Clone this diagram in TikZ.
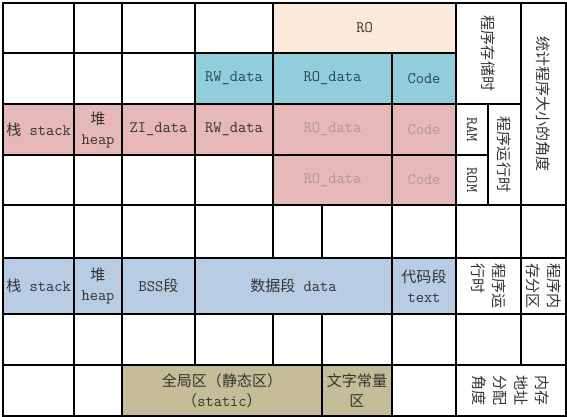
\documentclass[tikz,border=0pt]{standalone}
\usepackage{fontspec}
\newfontfamily\cjk[Scale=0.94]{Noto Sans CJK SC}
\definecolor{peach}{HTML}{FDE9D9}
\definecolor{cblue}{HTML}{92CDDC}
\definecolor{cpink}{HTML}{E6B8B7}
\definecolor{lblue}{HTML}{B8CCE4}
\definecolor{khaki}{HTML}{C4BD97}
\definecolor{txt}{HTML}{333333}
\definecolor{teal}{HTML}{264650}
\definecolor{faded}{RGB}{176,152,154}
\tikzset{
  cell/.style={draw=black, line width=1.1pt, inner sep=0pt, outer sep=0pt,
    font=\fontsize{16}{20}\selectfont\ttfamily, text=txt, align=center},
  thickbox/.style={draw=black, line width=2.6pt},
  vtext/.style={rotate=-90, inner sep=0pt, font=\fontsize{16}{21}\selectfont\cjk, text=txt, align=left},
  vlatin/.style={rotate=-90, inner sep=0pt, font=\fontsize{16}{20}\selectfont\ttfamily, text=txt},
}
\newcommand\mkcell[7]{%
  \pgfmathsetmacro\mkw{#4-#2}\pgfmathsetmacro\mkh{#5-#3}%
  \node[cell,minimum width=\mkw pt,minimum height=\mkh pt,#6] (#1) at ({(#2+#4)/2},{(#3+#5)/2}) {#7};}
\begin{document}
\begin{tikzpicture}[x=1pt,y=-1pt]
\useasboundingbox[fill=white] (0,0) rectangle (567,417);
% row 1
\mkcell{a1}{3}{3}{74}{53}{}{}
\mkcell{a2}{74}{3}{122}{53}{}{}
\mkcell{a3}{122}{3}{195}{53}{}{}
\mkcell{a4}{195}{3}{273}{53}{}{}
\mkcell{RO}{273}{3}{456}{53}{fill=peach}{RO}
\mkcell{store}{456}{3}{521}{104}{}{}
\mkcell{stat}{521}{3}{566}{205}{}{}
% row 2
\mkcell{b1}{3}{53}{74}{104}{}{}
\mkcell{b2}{74}{53}{122}{104}{}{}
\mkcell{b3}{122}{53}{195}{104}{}{}
\mkcell{rw1}{195}{53}{273}{104}{fill=cblue,text=teal}{RW\_data}
\mkcell{ro1}{273}{53}{392}{104}{fill=cblue,text=teal}{RO\_data}
\mkcell{code1}{392}{53}{456}{104}{fill=cblue,text=teal}{Code}
% row 3
\mkcell{stack1}{3}{104}{74}{155}{fill=cpink}{{\cjk 栈} stack}
\mkcell{heap1}{74}{104}{122}{155}{fill=cpink}{{\cjk 堆}\\heap}
\mkcell{zi}{122}{104}{195}{155}{fill=cpink}{ZI\_data}
\mkcell{rw2}{195}{104}{273}{155}{fill=cpink}{RW\_data}
\mkcell{ro2}{273}{104}{392}{155}{fill=cpink,text=faded}{RO\_data}
\mkcell{code2}{392}{104}{456}{155}{fill=cpink,text=faded}{Code}
\mkcell{ram}{456}{104}{488}{155}{}{}
\mkcell{run1}{488}{104}{521}{205}{}{}
% row 4
\mkcell{d1}{3}{155}{74}{205}{}{}
\mkcell{d2}{74}{155}{122}{205}{}{}
\mkcell{d3}{122}{155}{195}{205}{}{}
\mkcell{d4}{195}{155}{273}{205}{}{}
\mkcell{ro3}{273}{155}{392}{205}{fill=cpink,text=faded}{RO\_data}
\mkcell{code3}{392}{155}{456}{205}{fill=cpink,text=faded}{Code}
\mkcell{rom}{456}{155}{488}{205}{}{}
% row 5
\mkcell{e1}{3}{205}{74}{258}{}{}
\mkcell{e2}{74}{205}{122}{258}{}{}
\mkcell{e3}{122}{205}{195}{258}{}{}
\mkcell{e4}{195}{205}{273}{258}{}{}
\mkcell{e5}{273}{205}{322}{258}{}{}
\mkcell{e6}{322}{205}{392}{258}{}{}
\mkcell{e7}{392}{205}{456}{258}{}{}
\mkcell{e8}{456}{205}{521}{258}{}{}
\mkcell{e9}{521}{205}{566}{258}{}{}
% row 6
\mkcell{stack2}{3}{258}{74}{314}{fill=lblue}{{\cjk 栈} stack}
\mkcell{heap2}{74}{258}{122}{314}{fill=lblue}{{\cjk 堆}\\heap}
\mkcell{bss}{122}{258}{195}{314}{fill=lblue}{BSS{\cjk 段}}
\mkcell{data}{195}{258}{392}{314}{fill=lblue}{{\cjk 数据段} data}
\mkcell{text}{392}{258}{456}{314}{fill=lblue}{{\cjk 代码段}\\text}
\mkcell{run2}{456}{258}{521}{314}{}{}
\mkcell{part}{521}{258}{566}{314}{}{}
% row 7
\mkcell{g1}{3}{314}{74}{365}{}{}
\mkcell{g2}{74}{314}{122}{365}{}{}
\mkcell{g3}{122}{314}{195}{365}{}{}
\mkcell{g4}{195}{314}{273}{365}{}{}
\mkcell{g5}{273}{314}{322}{365}{}{}
\mkcell{g6}{322}{314}{392}{365}{}{}
\mkcell{g7}{392}{314}{456}{365}{}{}
\mkcell{g8}{456}{314}{521}{365}{}{}
\mkcell{g9}{521}{314}{566}{365}{}{}
% row 8
\mkcell{h1}{3}{365}{74}{416}{}{}
\mkcell{h2}{74}{365}{122}{416}{}{}
\mkcell{glob}{122}{365}{322}{416}{fill=khaki}{{\cjk 全局区（静态区）}\\{\cjk （}static{\cjk ）}}
\mkcell{lit}{322}{365}{392}{416}{fill=khaki}{{\cjk 文字常量}\\{\cjk 区}}
\mkcell{h5}{392}{365}{456}{416}{}{}
\mkcell{addr}{456}{365}{566}{416}{}{}
% vertical texts
\node[vtext] (tstore) at (store.center) {程序存储时};
\node[vtext] (tstat) at (stat.center) {统计程序大小的角度};
\node[vlatin] (tram) at (ram.center) {RAM};
\node[vlatin] (trom) at (rom.center) {ROM};
\node[vtext] (trun1) at (run1.center) {程序运行时};
\node[vtext] (trun2) at (run2.center) {程序运\\行时};
\node[vtext] (tpart) at (part.center) {程序内\\存分区};
\node[vtext] (taddr) at (addr.center) {内存\\地址\\分配\\角度};
% thick borders
\draw[thickbox] (RO.north west) rectangle (RO.south east);
\draw[thickbox] (rw1.north west) rectangle (code1.south east);
\draw[thickbox] (stack1.north west) rectangle (rw2.south east);
\draw[thickbox] (ro2.north west) rectangle (code3.south east);
\draw[thickbox] (stack2.north west) rectangle (text.south east);
\draw[thickbox] (glob.north west) rectangle (lit.south east);
\end{tikzpicture}
\end{document}
